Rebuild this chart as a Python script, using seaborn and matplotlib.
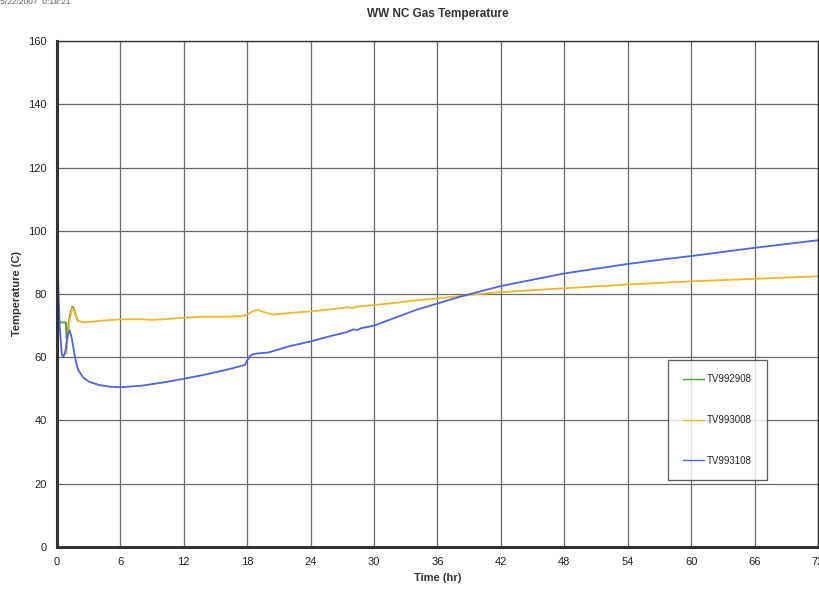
import numpy as np
import pandas as pd
import matplotlib
matplotlib.use("Agg")
import matplotlib.pyplot as plt
from matplotlib.ticker import MultipleLocator
import seaborn as sns

# valores (horas, grados C)
t_green = [0.0, 0.15, 0.3, 0.6, 0.85, 0.9, 1.0, 1.2, 1.45, 1.6, 1.8, 2.0]
v_green = [96, 72, 71, 71, 71, 66, 68, 73, 76, 75.5, 73, 71.5]

t_orange = [0.9, 1.0, 1.2, 1.45, 1.6, 1.8, 2.0, 2.5, 4, 6, 8, 9, 10, 12, 14, 16, 17.5, 18.0,
            18.5, 19.0, 19.8, 20.5, 22, 24, 26, 27.5, 28, 28.3, 30, 32, 34, 36, 38, 40, 42,
            45, 48, 51, 54, 57, 60, 63, 66, 69, 72]
v_orange = [61, 66, 72, 75.5, 75, 73, 71.5, 71, 71.5, 72, 72, 71.8, 72, 72.5, 72.8, 72.8, 73, 73.5,
            74.5, 75, 74, 73.5, 74, 74.5, 75.2, 75.8, 75.5, 76, 76.5, 77.2, 78, 78.6, 79.3, 80, 80.6,
            81.2, 81.8, 82.4, 83, 83.5, 84, 84.4, 84.8, 85.2, 85.6]

t_blue = [0.0, 0.1, 0.25, 0.45, 0.6, 0.8, 1.0, 1.2, 1.4, 1.6, 1.8, 2.0, 2.5, 3, 4, 5, 6, 8, 10,
          12, 14, 16, 17.5, 17.8, 18.0, 18.3, 18.6, 19, 20, 21, 22, 24, 26, 27.5, 28, 28.4, 28.8, 30,
          32, 34, 36, 38, 40, 42, 45, 48, 51, 54, 57, 60, 63, 66, 69, 72]
v_blue = [97, 85, 70, 61, 60, 62, 67, 68.5, 66, 62, 58.5, 56, 53.5, 52.3, 51.2, 50.7, 50.5, 51, 52,
          53.2, 54.5, 56, 57.3, 57.6, 59, 60.5, 61, 61.2, 61.5, 62.5, 63.5, 65, 66.8, 68, 68.8, 68.6, 69.2, 70,
          72.5, 75, 77, 79, 80.8, 82.5, 84.5, 86.5, 88, 89.5, 90.8, 92, 93.3, 94.6, 95.8, 97]

series = ["TV992908", "TV993008", "TV993108"]
colors = ["#4f9e3c", "#f2b62a", "#4d63e8"]

df = pd.concat([
    pd.DataFrame({"Time": t_green, "Temp": v_green, "Sensor": series[0]}),
    pd.DataFrame({"Time": t_orange, "Temp": v_orange, "Sensor": series[1]}),
    pd.DataFrame({"Time": t_blue, "Temp": v_blue, "Sensor": series[2]}),
])

sns.set_style("white")
plt.rcParams["font.family"] = ["Liberation Sans", "DejaVu Sans"]

fig = plt.figure(figsize=(8.2, 5.97), dpi=100)
ax = fig.add_axes([0.0695, 0.0838, 0.928, 0.8475])

sns.lineplot(data=df, x="Time", y="Temp", hue="Sensor", palette=colors,
             sort=False, estimator=None, linewidth=1.3, ax=ax)

ax.set_xlim(0, 72)
ax.set_ylim(0, 160)
ax.xaxis.set_major_locator(MultipleLocator(6))
ax.xaxis.set_minor_locator(MultipleLocator(1))
ax.yaxis.set_major_locator(MultipleLocator(20))
ax.yaxis.set_minor_locator(MultipleLocator(2))
ax.grid(True, which="major", color="#6a6a6a", linewidth=0.9)
ax.set_axisbelow(True)
ax.tick_params(which="major", direction="out", length=4, width=1.2, labelsize=8, colors="#222222")
ax.tick_params(which="minor", direction="in", length=3, width=1.2, color="#222222")
for s in ax.spines.values():
    s.set_color("#333333")
    s.set_linewidth(1.0)
ax.spines["left"].set_linewidth(2.2)
ax.spines["bottom"].set_linewidth(2.2)

ax.set_xlabel("Time (hr)", fontsize=8, fontweight="bold", color="#333333")
ax.set_ylabel("Temperature (C)", fontsize=8, fontweight="bold", color="#333333")
ax.set_title("WW NC Gas Temperature", fontsize=8.5, fontweight="bold", color="#333333", pad=17)

leg = ax.legend(loc="upper left", bbox_to_anchor=(0.803, 0.37), fontsize=7, frameon=True,
                fancybox=False, edgecolor="#333333", labelspacing=3.15, handlelength=2.2,
                borderpad=1.5, handletextpad=0.3, borderaxespad=0)
leg.get_frame().set_linewidth(0.9)
for ln in leg.get_lines():
    ln.set_linewidth(1.0)

fig.text(0.0, 0.995, "5/22/2007  0:18:21", fontsize=6, color="#555555", va="center")

fig.savefig("out.png", dpi=100)
